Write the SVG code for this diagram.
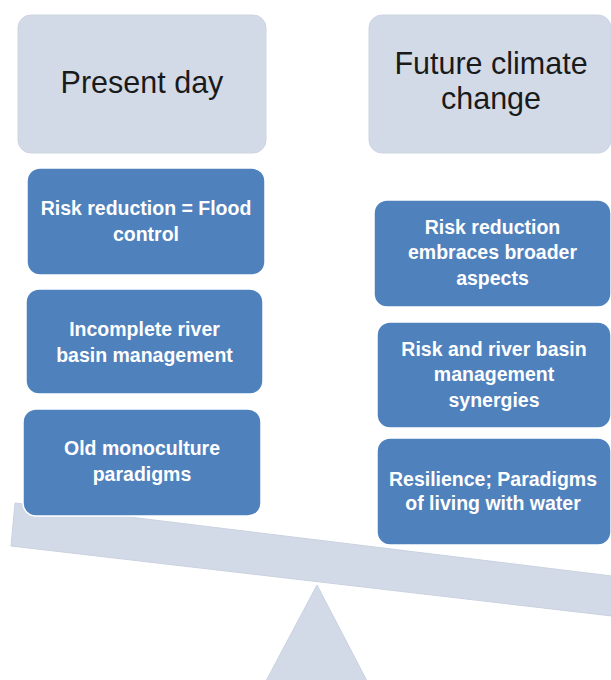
<svg xmlns="http://www.w3.org/2000/svg" width="611" height="680" viewBox="0 0 611 680">
<style>
.hdr{fill:#D3DAE7;stroke:#CCD4E2;stroke-width:1}
.box{fill:#4F81BD;stroke:#FFFFFF;stroke-width:1.5}
.light{fill:#D3DAE7;stroke:#C9D1E0;stroke-width:1}
.ht{font-family:"Liberation Sans",Arial,sans-serif;font-size:30.5px;fill:#1A1A1A;text-anchor:middle}
.bt{font-family:"Liberation Sans",Arial,sans-serif;font-size:19.5px;font-weight:bold;fill:#FFFFFF;text-anchor:middle}
</style>
<rect width="611" height="680" fill="#FFFFFF"/>
<g id="scale">
<polygon class="light" points="317,585 367,681 266,681"/>
<polygon class="light" points="15,503 612,576 612,616 11,546"/>
</g>
<g id="connectors"/>
<g id="present-day">
<rect class="hdr" x="18" y="15" width="248" height="138" rx="13"/>
<text class="ht" x="142" y="93">Present day</text>
</g>
<g id="future-climate-change">
<rect class="hdr" x="369" y="15" width="242" height="138" rx="13"/>
<text class="ht" x="491" y="74">Future climate</text>
<text class="ht" x="491" y="109">change</text>
</g>
<g id="risk-flood-control">
<rect class="box" x="27" y="168" width="238" height="107" rx="13"/>
<text class="bt" x="146" y="215">Risk reduction = Flood</text>
<text class="bt" x="146" y="241">control</text>
</g>
<g id="incomplete-rbm">
<rect class="box" x="26" y="289" width="237" height="105" rx="13"/>
<text class="bt" x="144.5" y="336">Incomplete river</text>
<text class="bt" x="144.5" y="362">basin management</text>
</g>
<g id="old-monoculture">
<rect class="box" x="23" y="409" width="238" height="107" rx="13"/>
<text class="bt" x="142" y="455">Old monoculture</text>
<text class="bt" x="142" y="481">paradigms</text>
</g>
<g id="risk-broader">
<rect class="box" x="374" y="200" width="237" height="107" rx="13"/>
<text class="bt" x="492.5" y="234">Risk reduction</text>
<text class="bt" x="492.5" y="259">embraces broader</text>
<text class="bt" x="492.5" y="285">aspects</text>
</g>
<g id="risk-rbm-synergies">
<rect class="box" x="377" y="322" width="234" height="106" rx="13"/>
<text class="bt" x="494" y="356">Risk and river basin</text>
<text class="bt" x="494" y="381">management</text>
<text class="bt" x="494" y="407">synergies</text>
</g>
<g id="resilience">
<rect class="box" x="377" y="438" width="234" height="107" rx="13"/>
<text class="bt" x="493" y="486">Resilience; Paradigms</text>
<text class="bt" x="493" y="510">of living with water</text>
</g>
</svg>
